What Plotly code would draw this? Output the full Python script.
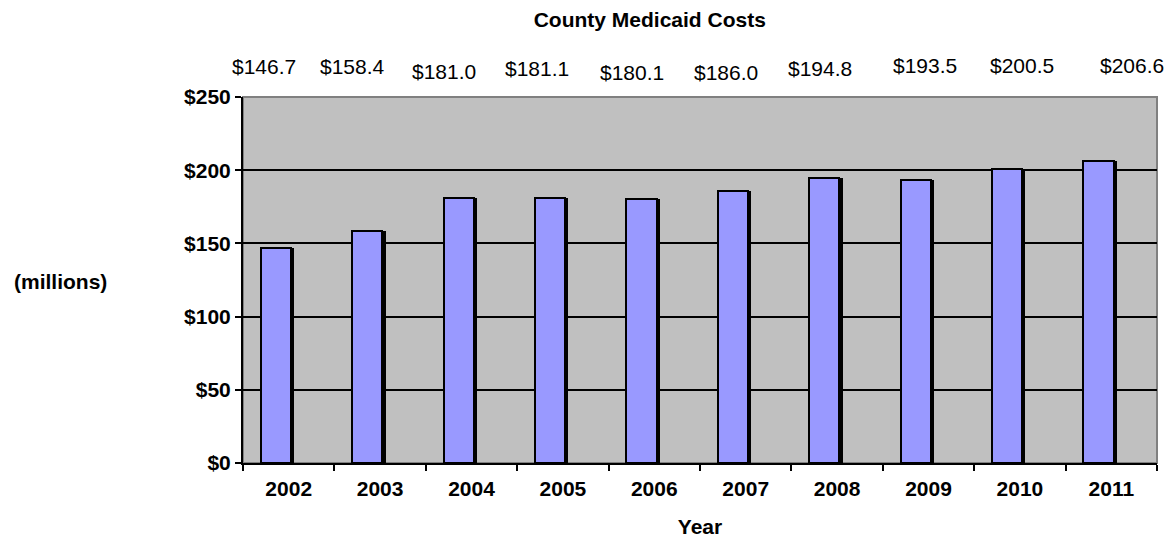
import plotly.graph_objects as go

years = ["2002", "2003", "2004", "2005", "2006", "2007", "2008", "2009", "2010", "2011"]
costs = [146.7, 158.4, 181.0, 181.1, 180.1, 186.0, 194.8, 193.5, 200.5, 206.6]
y_ticks = [0, 50, 100, 150, 200, 250]
y_tick_labels = ["$0", "$50", "$100", "$150", "$200", "$250"]

# style: manual label placements (pixel shifts) as in the original
label_xshift = [-25, -28, -28, -26, -22, -20, -17, -4, 2, 21]
label_ypix = [66.5, 66.5, 71.5, 68.5, 72.5, 72.5, 68.5, 65, 65.5, 65]

FONT = "Liberation Sans, Arial, sans-serif"
PLOT_TOP = 97

fig = go.Figure()
fig.add_trace(go.Bar(x=years, y=costs, offset=-0.27, width=0.33,
                     marker=dict(color="black", line=dict(width=0)),
                     hoverinfo="skip", showlegend=False))
fig.add_trace(go.Bar(x=years, y=costs, offset=-0.305, width=0.33,
                     marker=dict(color="#9999FF", line=dict(color="black", width=2)),
                     showlegend=False))

for i, v in enumerate(costs):
    fig.add_annotation(x=i, xref="x", y=1, yref="paper",
                       text=f"${v:.1f}", showarrow=False,
                       xshift=label_xshift[i], yshift=PLOT_TOP - label_ypix[i],
                       xanchor="center", yanchor="middle",
                       font=dict(family=FONT, size=21, color="black"))

fig.add_annotation(xref="paper", x=(60 - 243) / 914, xanchor="center",
                   yref="paper", y=(463 - 281) / 366, yanchor="middle",
                   text="<b>(millions)</b>", showarrow=False,
                   font=dict(family=FONT, size=21, color="black"))

fig.add_shape(type="rect", xref="paper", yref="paper", x0=0, x1=1, y0=0, y1=1,
              line=dict(color="#808080", width=2), layer="below")

tickfont = dict(family=FONT, size=21, color="black", weight="bold")

fig.update_layout(
    width=1175, height=539,
    margin=dict(l=243, r=18, t=97, b=76, autoexpand=False),
    paper_bgcolor="white", plot_bgcolor="#C0C0C0",
    barmode="overlay", bargap=0,
    title=dict(text="<b>County Medicaid Costs</b>", x=0.553, xanchor="center",
               y=1 - 20 / 539, yanchor="middle",
               font=dict(family=FONT, size=21, color="black")),
    font=dict(family=FONT, color="black"),
    xaxis=dict(type="category", range=[-0.5, 9.5], tickson="boundaries",
               ticks="outside", ticklen=6, tickwidth=2, tickcolor="black",
               ticklabelstandoff=6, automargin=False,
               showline=True, linecolor="black", linewidth=2,
               showgrid=False, tickfont=tickfont,
               title=dict(text="<b>Year</b>", font=dict(family=FONT, size=21, color="black"),
                          standoff=20)),
    yaxis=dict(range=[0, 250], tickvals=y_ticks, ticktext=y_tick_labels,
               ticks="outside", ticklen=6, tickwidth=2, tickcolor="black",
               automargin=False,
               showline=True, linecolor="black", linewidth=2,
               showgrid=True, gridcolor="black", gridwidth=2, zeroline=False,
               tickfont=tickfont),
)

fig.write_html("out.html", config={"displayModeBar": False},
               post_script="document.body.style.margin='0';document.body.style.overflow='hidden';")
